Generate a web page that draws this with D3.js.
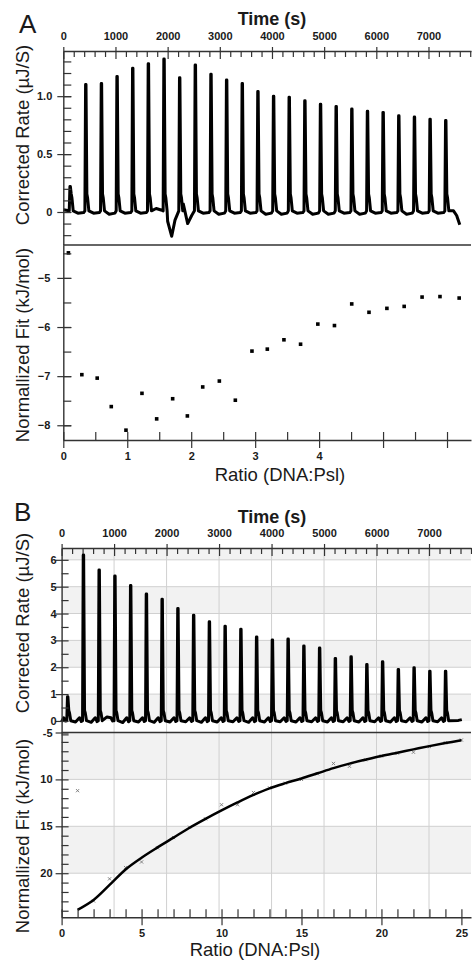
<!DOCTYPE html>
<html>
<head>
<meta charset="utf-8">
<script src="https://cdn.jsdelivr.net/npm/d3@7"></script>
<style>
  body { margin: 0; background: #fff; }
  svg { display: block; font-family: Arial, "Liberation Sans", sans-serif; }
</style>
</head>
<body>
<svg id="chart" width="472" height="963"></svg>
<script>
// ---- panel A : thermogram + integrated heats ----
const injTimeA = [130, 430, 730, 1030, 1330, 1630, 1930, 2230, 2530, 2830, 3130, 3430, 3730,
                  4030, 4330, 4630, 4930, 5230, 5530, 5830, 6130, 6430, 6730, 7030, 7330]
const peakA = [0.22, 1.10, 1.11, 1.17, 1.24, 1.28, 1.32, 1.16, 1.27, 1.19, 1.14, 1.11, 1.04,
               1.00, 0.99, 0.96, 0.93, 0.91, 0.89, 0.87, 0.86, 0.83, 0.82, 0.80, 0.79]
// baseline level between injections
const sagA = [-0.01, -0.01, -0.02, -0.01, -0.01, 0.03, -0.01, -0.02, -0.01, -0.02, -0.01, -0.01, -0.02,
              -0.02, -0.01, -0.02, -0.02, -0.01, -0.02, -0.01, -0.01, -0.02, -0.01, -0.01, 0.01]
// irregular stretch of the baseline near 2000 s, and the tail
const extraA = [[2000, -0.08], [2078, -0.21], [2141, -0.07], [2300, 0.07], [2384, -0.10], [2461, -0.03],
                [7480, 0.01], [7540, -0.03], [7600, -0.11]]
const ratioA = [0.08, 0.29, 0.53, 0.75, 0.98, 1.23, 1.46, 1.71, 1.94, 2.18, 2.44, 2.69, 2.95,
                3.19, 3.45, 3.71, 3.98, 4.24, 4.51, 4.78, 5.06, 5.33, 5.61, 5.89, 6.19]
const heatA = [-4.49, -6.97, -7.04, -7.62, -8.10, -7.35, -7.87, -7.46, -7.81, -7.22, -7.10, -7.49, -6.49,
               -6.45, -6.26, -6.35, -5.94, -5.97, -5.53, -5.70, -5.62, -5.58, -5.39, -5.38, -5.41]

// ---- panel B ----
const injTimeB = [115, 415, 715, 1015, 1315, 1615, 1915, 2215, 2515, 2815, 3115, 3415, 3715,
                  4015, 4315, 4615, 4915, 5215, 5515, 5815, 6115, 6415, 6715, 7015, 7315]
const peakB = [0.90, 6.18, 5.62, 5.40, 5.04, 4.73, 4.53, 4.19, 3.94, 3.69, 3.53, 3.41, 3.13,
               3.01, 3.05, 2.79, 2.72, 2.33, 2.39, 2.10, 2.20, 1.92, 1.98, 1.85, 1.85]
const sagB = [-0.04, -0.05, 0.15, -0.06, -0.04, -0.05, -0.04, -0.03, -0.05, -0.04, -0.03, -0.05, -0.04,
              -0.03, -0.04, -0.03, -0.04, -0.03, -0.04, -0.03, -0.04, -0.03, -0.04, -0.03, 0.0]
const extraB = [[7560, 0.02], [7625, 0.05]]
const ratioB = [1, 2, 3, 4, 5, 6, 7, 8, 9, 10, 11, 12, 13, 14, 15, 16, 17, 18, 19, 20, 21, 22, 23, 24, 25]
const heatB = [-11.2, -22.96, -20.6, -19.4, -18.8, -17.3, -16.2, -15.1, -14.2, -12.7, -12.7, -11.4, -10.9,
               -10.4, -10.0, -9.4, -8.3, -8.6, -7.9, -7.5, -7.2, -7.1, -6.5, -6.1, -5.8]
const fitB = [-23.9, -22.85, -21.25, -19.6, -18.35, -17.25, -16.2, -15.15, -14.2, -13.3, -12.45, -11.65, -10.95,
              -10.4, -9.9, -9.35, -8.8, -8.32, -7.9, -7.5, -7.15, -6.8, -6.45, -6.13, -5.83]

const timeTicks = [0, 1000, 2000, 3000, 4000, 5000, 6000, 7000]
const ratioTicksA = [0, 1, 2, 3, 4]
const rateTicksA = [0, 0.5, 1.0]
const fitTicksA = [-5, -6, -7, -8]
const rateTicksB = [0, 1, 2, 3, 4, 5, 6]
const ratioTicksB = [0, 5, 10, 15, 20, 25]
const fitTicksB = [-5, -10, -15, -20]
const fitLabelsB = ["-5", "10", "15", "20"]

const svg = d3.select("#chart")
const axisColor = "#333"
const textColor = "#1a1a1a"

    // scales
const xTimeA = d3.scaleLinear().domain([0, 7815]).range([63.3, 471])
const yRateA = d3.scaleLinear().domain([-0.285, 1.39]).range([245, 51])
const xRatioA = d3.scaleLinear().domain([0, 6.375]).range([63.3, 471])
const yFitA = d3.scaleLinear().domain([-8.3, -4.33]).range([440, 245])

const xTimeB = d3.scaleLinear().domain([0, 7800]).range([61.6, 471])
const yRateB = d3.scaleLinear().domain([-0.43, 6.44]).range([732.5, 548])
const xRatioB = d3.scaleLinear().domain([0, 25.6]).range([61.6, 471])
const yFitB = d3.scaleLinear().domain([-24.7, -5]).range([917.3, 732.5])

// builds the thermogram vertices from injection times and peak heights
function buildTrace(times, peaks, sag, extra, shoulder, pre, start) {
    const pts = [[0, start]]
    times.forEach((t, i) => {
        const tNext = i < times.length - 1 ? times[i + 1] : 7700
        if (pre) pts.push([t - 75, pre], [t - 45, 0])
        pts.push([t - 16, 0.01], [t - 3, peaks[i]], [t + 5, peaks[i]], [t + 22, shoulder * 1.3],
                 [t + 36, shoulder], [t + 60, 0.01])
        const ex = extra.filter(e => e[0] > t + 60 && e[0] < tNext - 45)
        if (ex.length) pts.push(...ex)
        else pts.push([t + 150, sag[i]], [tNext - 40, sag[i] * 0.5])
    })
    return pts.filter(p => p[0] >= 0).sort((a, b) => a[0] - b[0])
}

function styleAxis(g) {
    g.selectAll("path.domain").attr("stroke", axisColor).attr("stroke-width", 1.4)
    g.selectAll(".tick line").attr("stroke", axisColor).attr("stroke-width", 1.2)
    g.selectAll(".tick text").attr("fill", textColor).attr("font-weight", "bold")
        .attr("font-size", 11).attr("font-family", "Arial, 'Liberation Sans', sans-serif")
}

// axis with inward minor ticks and crossing major ticks
function drawAxis(kind, scale, pos, majors, minors, opts) {
    const g = svg.append("g").attr("transform",
        kind === "top" || kind === "bottom" ? `translate(0,${pos})` : `translate(${pos},0)`)
    const make = kind === "top" ? d3.axisTop : kind === "bottom" ? d3.axisBottom : d3.axisLeft
    g.append("g").call(make(scale).tickValues(minors).tickSize(-opts.minor).tickSizeOuter(0).tickFormat(""))
    const major = g.append("g").call(make(scale).tickValues(majors).tickSize(-opts.major)
        .tickSizeOuter(0).tickPadding(opts.pad)
        .tickFormat(opts.labels ? ((d, i) => opts.labels[i]) : opts.fmt))
    major.select("path.domain").remove()
    const outer = opts.out
    if (kind === "top") major.selectAll(".tick line").attr("y1", -outer)
    if (kind === "bottom") major.selectAll(".tick line").attr("y1", outer)
    if (kind === "left") major.selectAll(".tick line").attr("x1", -outer)
    if (opts.hide) major.selectAll(".tick text").filter(d => opts.hide.includes(d)).remove()
    styleAxis(g)
    return g
}

const line = (x, y) => d3.line().x(d => x(d[0])).y(d => y(d[1]))

// ================= PANEL A =================
svg.append("text").attr("x", 19).attr("y", 33).attr("font-size", 26).attr("fill", textColor).text("A")
svg.append("text").attr("x", 272).attr("y", 25).attr("text-anchor", "middle")
    .attr("font-size", 18).attr("font-weight", "bold").attr("fill", textColor).text("Time (s)")

const traceA = buildTrace(injTimeA, peakA, sagA, extraA, 0.12, 0, 0.02)
svg.append("path").datum(traceA)
    .attr("d", line(xTimeA, yRateA))
    .attr("fill", "none").attr("stroke", "#000").attr("stroke-width", 3)
    .attr("stroke-linejoin", "round")

svg.append("g").selectAll("rect")
    .data(ratioA.map((r, i) => [r, heatA[i]]))
    .join("rect")
    .attr("x", d => xRatioA(d[0]) - 1.8).attr("y", d => yFitA(d[1]) - 1.8)
    .attr("width", 3.6).attr("height", 3.6).attr("fill", "#000")

drawAxis("top", xTimeA, 51, timeTicks, d3.range(0, 7801, 200).filter(v => v % 1000), {minor: 6, major: 8, out: 4, pad: 11, fmt: d3.format("d")})
drawAxis("left", yRateA, 63.3, rateTicksA, d3.range(-0.2, 1.31, 0.1).map(v => +v.toFixed(1)),
    {minor: 8, major: 8, out: 6, pad: 11, fmt: d => d === 0 ? "0" : d3.format(".1f")(d)})
drawAxis("left", yFitA, 63.3, fitTicksA, d3.range(-8, -4.4, 0.5), {minor: 8, major: 8, out: 6, pad: 13, fmt: d => "\u2212" + Math.abs(d)})
drawAxis("bottom", xRatioA, 440, d3.range(0, 7), d3.range(0.5, 6.4, 1), {minor: 8, major: 8, out: 8, pad: 12, fmt: d3.format("d"), hide: [5, 6]})
// divider between the two plots
svg.append("line").attr("x1", 63.3).attr("x2", 471).attr("y1", 245).attr("y2", 245)
    .attr("stroke", axisColor).attr("stroke-width", 1.4)

svg.append("text").attr("transform", "translate(29,135) rotate(-90)").attr("text-anchor", "middle")
    .attr("font-size", 18.5).attr("fill", textColor).text("Corrected Rate (\u00b5J/S)")
svg.append("text").attr("transform", "translate(29,345) rotate(-90)").attr("text-anchor", "middle")
    .attr("font-size", 18.5).attr("fill", textColor).text("Normallized Fit (kJ/mol)")
svg.append("text").attr("x", 280).attr("y", 481).attr("text-anchor", "middle")
    .attr("font-size", 18.5).attr("fill", textColor).text("Ratio (DNA:Psl)")

// ================= PANEL B =================
svg.append("text").attr("x", 14).attr("y", 521).attr("font-size", 26).attr("fill", textColor).text("B")
svg.append("text").attr("x", 272).attr("y", 523).attr("text-anchor", "middle")
    .attr("font-size", 18).attr("font-weight", "bold").attr("fill", textColor).text("Time (s)")

// shaded bands + grid
const bandsUpper = [[0, 1], [2, 3], [4, 5], [6, 6.44]]
const bandsLower = [[-10, -5], [-20, -15]]
const grid = svg.append("g")
grid.selectAll("rect.bu").data(bandsUpper).join("rect")
    .attr("x", 61.6).attr("width", 471 - 61.6)
    .attr("y", d => yRateB(d[1])).attr("height", d => yRateB(d[0]) - yRateB(d[1]))
    .attr("fill", "#f2f2f2")
grid.selectAll("rect.bl").data(bandsLower).join("rect")
    .attr("x", 61.6).attr("width", 471 - 61.6)
    .attr("y", d => yFitB(d[1])).attr("height", d => yFitB(d[0]) - yFitB(d[1]))
    .attr("fill", "#f2f2f2")
grid.selectAll("line.v").data(timeTicks.slice(1)).join("line")
    .attr("x1", d => xTimeB(d)).attr("x2", d => xTimeB(d))
    .attr("y1", 548).attr("y2", 917.3)
    .attr("stroke", "#d0d0d0").attr("stroke-width", 1)
grid.selectAll("line.hu").data(rateTicksB.slice(1)).join("line")
    .attr("x1", 61.6).attr("x2", 471).attr("y1", d => yRateB(d)).attr("y2", d => yRateB(d))
    .attr("stroke", "#d0d0d0").attr("stroke-width", 1)
grid.selectAll("line.hl").data(fitTicksB.slice(1)).join("line")
    .attr("x1", 61.6).attr("x2", 471).attr("y1", d => yFitB(d)).attr("y2", d => yFitB(d))
    .attr("stroke", "#d0d0d0").attr("stroke-width", 1)

const traceB = buildTrace(injTimeB, peakB, sagB, extraB, 0.3, 0.12, -0.03)
svg.append("path").datum(traceB)
    .attr("d", line(xTimeB, yRateB))
    .attr("fill", "none").attr("stroke", "#000").attr("stroke-width", 3)
    .attr("stroke-linejoin", "round")

// data markers then fit curve
svg.append("g").selectAll("path")
    .data(ratioB.map((r, i) => [r, heatB[i]]))
    .join("path")
    .attr("d", d => {
        const x = xRatioB(d[0]), y = yFitB(d[1])
        return `M${x - 1.6},${y - 1.6}L${x + 1.6},${y + 1.6}M${x - 1.6},${y + 1.6}L${x + 1.6},${y - 1.6}`
    })
    .attr("stroke", "#777").attr("stroke-width", 0.9)

svg.append("path").datum(ratioB.map((r, i) => [r, fitB[i]]))
    .attr("d", line(xRatioB, yFitB).curve(d3.curveCatmullRom.alpha(0.5)))
    .attr("fill", "none").attr("stroke", "#000").attr("stroke-width", 2.5)

drawAxis("top", xTimeB, 548, timeTicks, d3.range(0, 7801, 200).filter(v => v % 1000), {minor: 6, major: 8, out: 4, pad: 11, fmt: d3.format("d")})
drawAxis("left", yRateB, 61.6, rateTicksB, d3.range(-0.5, 6.4, 0.5).filter(v => v % 1), {minor: 7, major: 7, out: 6, pad: 5, fmt: d3.format("d")})
drawAxis("left", yFitB, 61.6, fitTicksB, d3.range(-24, -5, 1).filter(v => v % 5), {minor: 7, major: 7, out: 6, pad: 9, labels: fitLabelsB})
drawAxis("bottom", xRatioB, 917.3, ratioTicksB, d3.range(1, 26).filter(v => v % 5), {minor: 8, major: 8, out: 8, pad: 12, fmt: d3.format("d")})
svg.append("line").attr("x1", 61.6).attr("x2", 471).attr("y1", 732.5).attr("y2", 732.5)
    .attr("stroke", axisColor).attr("stroke-width", 1.4)

svg.append("text").attr("transform", "translate(29,623) rotate(-90)").attr("text-anchor", "middle")
    .attr("font-size", 18.5).attr("fill", textColor).text("Corrected Rate (\u00b5J/S)")
svg.append("text").attr("transform", "translate(29,836) rotate(-90)").attr("text-anchor", "middle")
    .attr("font-size", 18.5).attr("fill", textColor).text("Normallized Fit (kJ/mol)")
svg.append("text").attr("x", 255).attr("y", 956).attr("text-anchor", "middle")
    .attr("font-size", 18.5).attr("fill", textColor).text("Ratio (DNA:Psl)")
</script>
</body>
</html>
